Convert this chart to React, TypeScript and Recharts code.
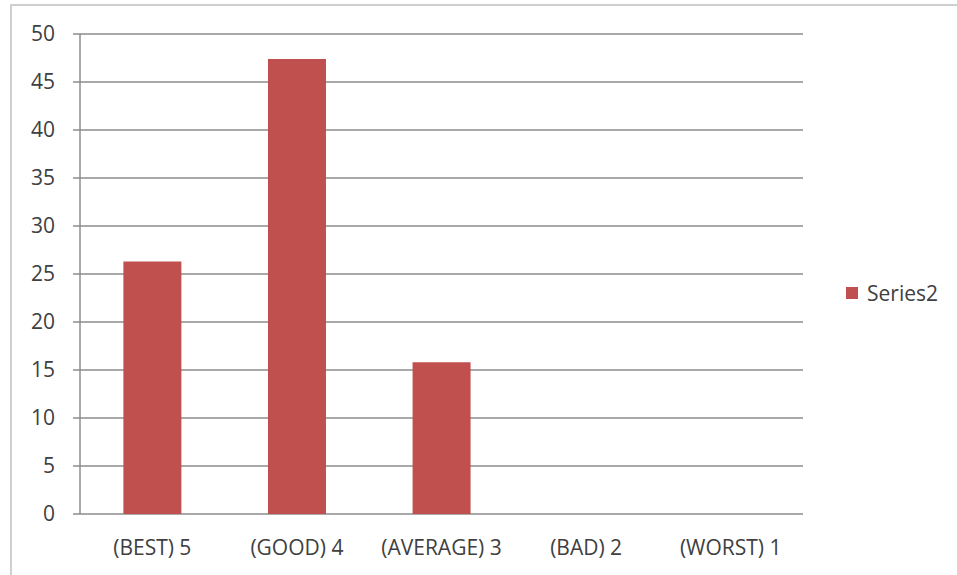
import React from "react";
import { BarChart, Bar, XAxis, YAxis, CartesianGrid, Legend } from "recharts";

const categories = ["(BEST) 5", "(GOOD) 4", "(AVERAGE) 3", "(BAD) 2", "(WORST) 1"];
const series2 = [26.3, 47.4, 15.8, 0, 0];
const yTicks = [0, 5, 10, 15, 20, 25, 30, 35, 40, 45, 50];
const edgeTicks = [0, 1, 2, 3, 4, 5];

const data = categories.map((name, i) => ({ name, Series2: series2[i] }));

const FONT = "'Open Sans', sans-serif";
const TEXT = "#404040";
const GRID = "#8c8c8c";
const RED = "#C0504D";

function LegendBox({ payload }: any) {
  return (
    <div style={{ fontFamily: FONT, fontSize: 21, color: TEXT }}>
      {(payload || []).map((p: any) => (
        <div key={p.value} style={{ display: "flex", alignItems: "center" }}>
          <span style={{ width: 12, height: 12, background: p.color, display: "inline-block", marginRight: 9 }} />
          <span>{p.value}</span>
        </div>
      ))}
    </div>
  );
}

export default function App() {
  return (
    <div style={{ position: "absolute", left: 0, top: 0, width: 957, height: 575, background: "#fff", overflow: "hidden" }}>
      <div
        style={{
          position: "absolute",
          left: 10,
          top: 4,
          width: 1000,
          height: 700,
          border: "2px solid #cfcfcf",
          boxSizing: "border-box",
        }}
      />
      <div style={{ position: "absolute", left: 0, top: 0 }}>
        <BarChart
          width={957}
          height={575}
          data={data}
          margin={{ top: 34, right: 154, bottom: 21, left: 0 }}
          barCategoryGap="30%"
        >
          <CartesianGrid vertical={false} stroke={GRID} strokeWidth={1.5} />
          <XAxis
            xAxisId="edges"
            type="number"
            domain={[0, 5]}
            ticks={edgeTicks}
            allowDataOverflow
            height={0}
            tickSize={7}
            tickFormatter={() => ""}
            stroke={GRID}
            axisLine={{ stroke: GRID, strokeWidth: 1.5 }}
            tickLine={{ stroke: GRID, strokeWidth: 1.5 }}
          />
          <XAxis
            dataKey="name"
            height={40}
            axisLine={false}
            tickLine={false}
            tickSize={8}
            tickMargin={18}
            interval={0}
            tick={{ fill: TEXT, fontSize: 21, fontFamily: FONT }}
          />
          <YAxis
            width={80}
            domain={[0, 50]}
            ticks={yTicks}
            tickSize={7}
            tickMargin={18}
            axisLine={{ stroke: GRID, strokeWidth: 1.5 }}
            tickLine={{ stroke: GRID, strokeWidth: 1.5 }}
            tick={{ fill: TEXT, fontSize: 21, fontFamily: FONT }}
          />
          <Legend
            layout="horizontal"
            verticalAlign="middle"
            align="center"
            wrapperStyle={{ left: 846, top: 279, width: "auto" }}
            content={<LegendBox />}
          />
          <Bar dataKey="Series2" fill={RED} isAnimationActive={false} />
        </BarChart>
      </div>
    </div>
  );
}
